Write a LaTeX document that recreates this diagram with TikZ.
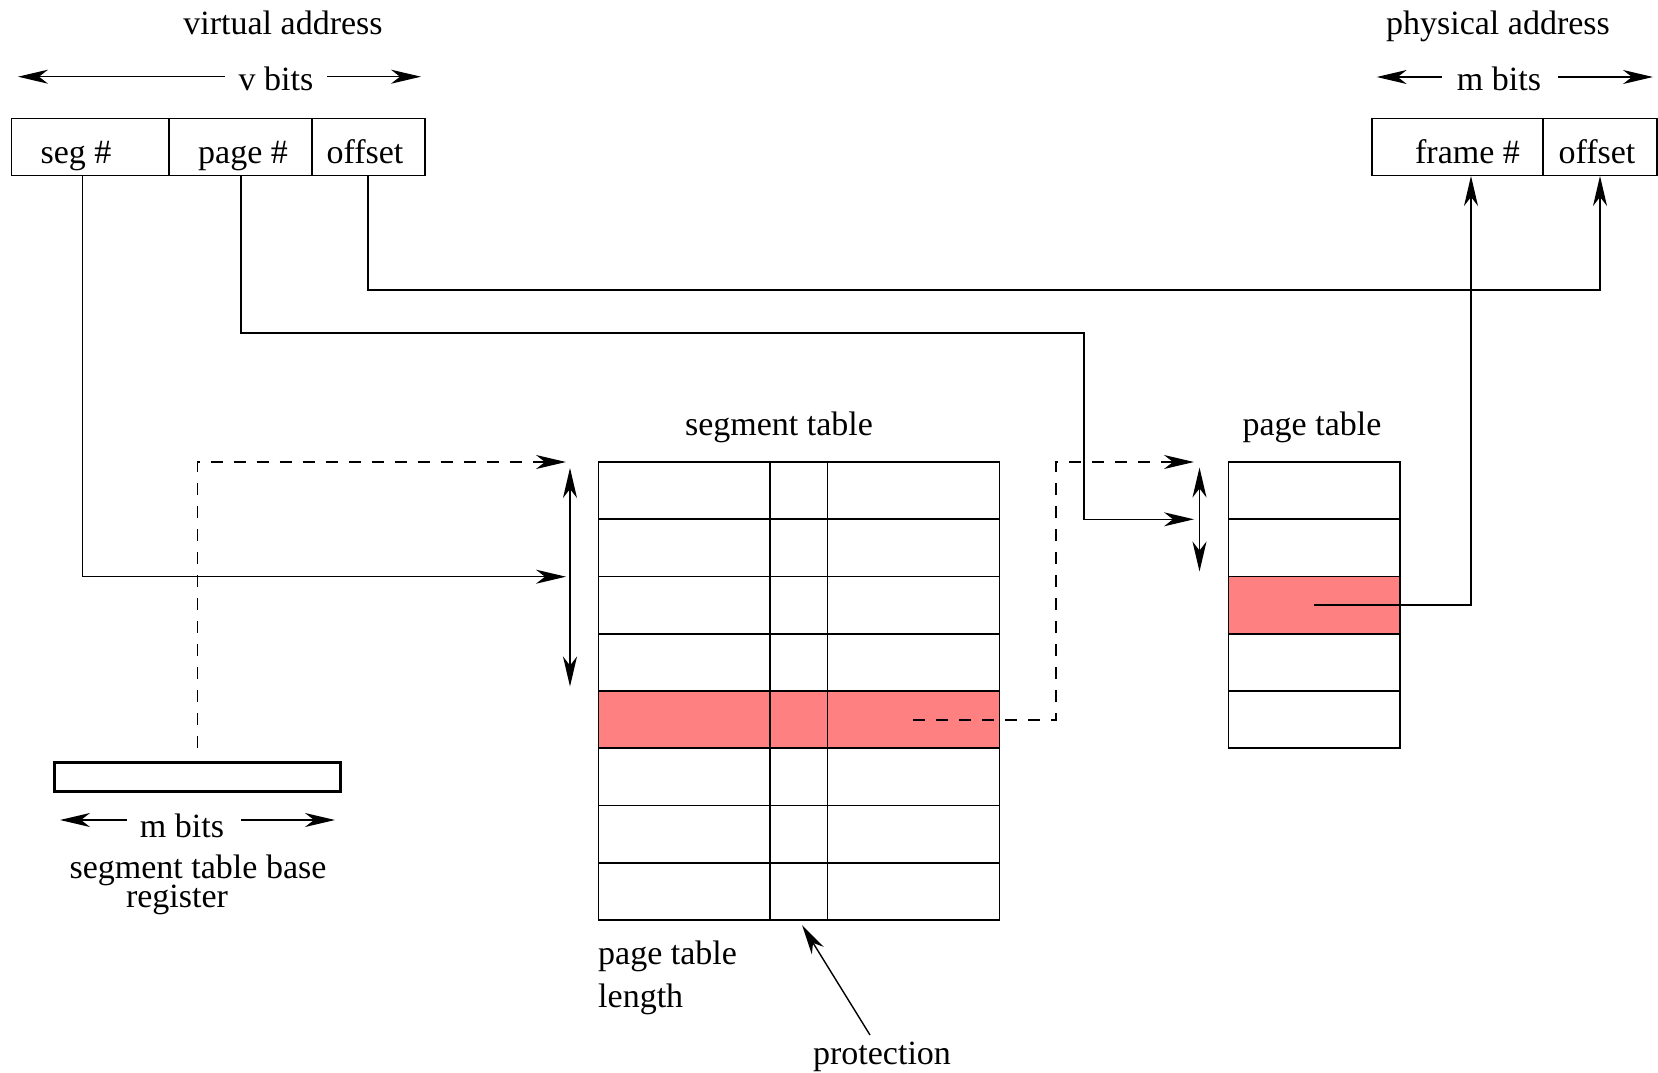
\documentclass[tikz,border=0pt]{standalone}
\usepackage{fontspec}
\setmainfont{Liberation Serif}
\usetikzlibrary{arrows.meta}
\definecolor{hl}{RGB}{255,128,128}
\begin{document}
\begin{tikzpicture}[x=1pt,y=-1pt,
  lbl/.style={font=\fontsize{34}{40}\selectfont, inner sep=0pt, anchor=base},
  lblw/.style={lbl, anchor=base west},
  conn/.style={line width=1.4pt},
  arr/.style={-{Stealth[length=30pt,width=14pt,inset=9pt]}},
  darr/.style={{Stealth[length=30pt,width=14pt,inset=9pt]}-{Stealth[length=30pt,width=14pt,inset=9pt]}},
  dsh/.style={conn, dash pattern=on 12pt off 11pt},
  cell/.style={draw, line width=1.6pt, inner sep=0pt, minimum height=57.25pt},
]
\useasboundingbox (0,0) rectangle (1658,1073);

% virtual address
\node[cell, minimum width=157.4pt, minimum height=57pt] (vseg) at (90.3,147) {};
\node[cell, minimum width=143pt, minimum height=57pt] (vpage) at (240.5,147) {};
\node[cell, minimum width=113pt, minimum height=57pt] (voff) at (368.5,147) {};
\node[lbl] (tva) at (283,35) {virtual address};
\node[lbl] (tvb) at (276,91) {v bits};
\node[lbl] (tseg) at (76,163.5) {seg \#};
\node[lbl] (tpage) at (243,163.5) {page \#};
\node[lbl] (toff) at (365,163.5) {offset};
\coordinate (vbl) at (18,76.7); \coordinate (vbla) at (225,76.7);
\coordinate (vbr) at (421,76.7); \coordinate (vbra) at (327,76.7);
\draw[conn,arr] (vbla) -- (vbl);
\draw[conn,arr] (vbra) -- (vbr);

% physical address
\node[cell, minimum width=171.3pt, minimum height=57pt] (pframe) at (1457.35,147) {};
\node[cell, minimum width=113.7pt, minimum height=57pt] (poff) at (1599.85,147) {};
\node[lbl] (tpa) at (1498,35) {physical address};
\node[lbl] (tpb) at (1499,91) {m bits};
\node[lbl] (tfr) at (1467.5,163.5) {frame \#};
\node[lbl] (tpoff) at (1597,163.5) {offset};
\coordinate (pbl) at (1376.7,77); \coordinate (pbla) at (1441.7,77);
\coordinate (pbr) at (1653,77); \coordinate (pbra) at (1558,77);
\draw[conn,arr] (pbla) -- (pbl);
\draw[conn,arr] (pbra) -- (pbr);

% segment table
\fill[hl] (598.3,691) rectangle (999.3,748.25);
\foreach \r in {0,...,7}{
  \node[cell, minimum width=171.7pt] (sta\r) at (684.15,{462+57.25*(\r+0.5)}) {};
  \node[cell, minimum width=57.3pt] (stb\r) at (798.65,{462+57.25*(\r+0.5)}) {};
  \node[cell, minimum width=172pt] (stc\r) at (913.3,{462+57.25*(\r+0.5)}) {};
}
\node[lbl] (tst) at (779,435.5) {segment table};
\node[lblw] (tptl1) at (598,964.5) {page table};
\node[lblw] (tptl2) at (598,1007.5) {length};
\node[lbl] (tprot) at (882,1064.5) {protection};

% page table
\fill[hl] (1228.3,576.5) rectangle (1400,633.75);
\foreach \r in {0,...,4}{
  \node[cell, minimum width=171.7pt] (pt\r) at (1314.15,{462+57.25*(\r+0.5)}) {};
}
\node[lbl] (tpt) at (1312,435.5) {page table};

% segment table base register
\node[draw, line width=3pt, inner sep=0pt, minimum width=286pt, minimum height=29pt] (reg) at (197.3,776.5) {};
\node[lbl] (trb) at (182,837) {m bits};
\node[lbl] (trg1) at (198,878.5) {segment table base};
\node[lbl] (trg2) at (177,907.5) {register};
\coordinate (rbl) at (60,820); \coordinate (rbla) at (127,820);
\coordinate (rbr) at (335,820); \coordinate (rbra) at (241,820);
\draw[conn,arr] (rbla) -- (rbl);
\draw[conn,arr] (rbra) -- (rbr);

% connectors
\coordinate (segdn) at (82.5,175.5);
\coordinate (stin) at (566,576.7);
\draw[conn,arr] (segdn) |- (stin);

\coordinate (pgdn) at (241,175.5);
\coordinate (pgmid) at (1084,333);
\coordinate (ptin) at (1194,519.3);
\draw[conn,arr] (pgdn) |- (pgmid) |- (ptin);

\coordinate (offdn) at (368,175.5);
\coordinate (offrt) at (1600,290);
\coordinate (poffin) at (1600,176);
\draw[conn,arr] (offdn) |- (offrt) -- (poffin);

\coordinate (frsrc) at (1314,605);
\coordinate (frin) at (1471,176);
\draw[conn,arr] (frsrc) -| (frin);

\coordinate (regup) at (197.7,748);
\coordinate (sttop) at (566,462);
\draw[dsh,arr] (regup) |- (sttop);

\coordinate (stsrc) at (913,720);
\coordinate (stcorner) at (1056,720);
\coordinate (pttop) at (1194,462);
\draw[dsh,arr] (stsrc) -- (stcorner) |- (pttop);

\coordinate (sdA) at (570,468); \coordinate (sdB) at (570,686.5);
\draw[conn,darr] (sdA) -- (sdB);
\coordinate (pdA) at (1199.5,467.5); \coordinate (pdB) at (1199.5,571.5);
\draw[conn,darr] (pdA) -- (pdB);

\coordinate (protA) at (870,1035); \coordinate (protB) at (802,925);
\draw[conn,arr] (protA) -- (protB);
\end{tikzpicture}
\end{document}
